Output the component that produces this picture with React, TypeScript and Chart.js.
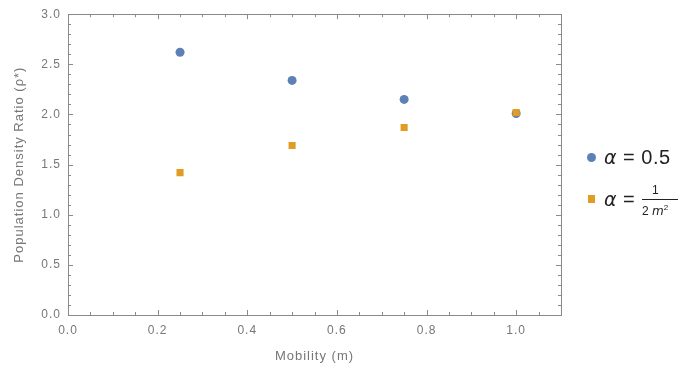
import React, { useEffect, useRef } from "react";
import { Chart, registerables } from "chart.js";

Chart.register(...registerables);

const mobility = [0.25, 0.5, 0.75, 1.0];
const alphaHalf = [2.62, 2.34, 2.15, 2.01];
const alphaInv = [1.42, 1.69, 1.87, 2.02];
const xTickValues = [0, 0.2, 0.4, 0.6, 0.8, 1.0];
const yTickValues = [0, 0.5, 1.0, 1.5, 2.0, 2.5, 3.0];
const xMinorStep = 0.05;
const yMinorStep = 0.1;

const BLUE = "#5E81B5";
const ORANGE = "#E19C24";
const FRAME = "#8a8a8a";
const TEXT = "#777777";
const FONT = "'Liberation Sans', Arial, sans-serif";

const spacingPlugin = {
  id: "letterSpacing",
  beforeInit(chart: any) {
    chart.ctx.letterSpacing = "1px";
  },
  beforeUpdate(chart: any) {
    chart.ctx.letterSpacing = "1px";
  },
  beforeDraw(chart: any) {
    chart.ctx.letterSpacing = "1px";
  },
};

const framePlugin = {
  id: "frameTicks",
  beforeDatasetsDraw(chart: any) {
    const { ctx, chartArea } = chart;
    const { left, right, top, bottom } = chartArea;
    const xs = chart.scales.x;
    const ys = chart.scales.y;
    ctx.save();
    ctx.strokeStyle = FRAME;
    ctx.lineWidth = 1;
    ctx.strokeRect(Math.round(left) + 0.5, Math.round(top) + 0.5, Math.round(right - left), Math.round(bottom - top));
    ctx.beginPath();
    const isMajor = (v: number, list: number[]) => list.some((t) => Math.abs(t - v) < 1e-6);
    for (let v = 0; v <= xs.max + 1e-9; v += xMinorStep) {
      const val = Math.round(v * 1000) / 1000;
      const px = Math.round(xs.getPixelForValue(val)) + 0.5;
      const len = isMajor(val, xTickValues) ? 5 : 3;
      if (px <= left + 1 || px >= right - 1) continue;
      ctx.moveTo(px, bottom);
      ctx.lineTo(px, bottom - len);
      ctx.moveTo(px, top);
      ctx.lineTo(px, top + len);
    }
    for (let v = 0; v <= ys.max + 1e-9; v += yMinorStep) {
      const val = Math.round(v * 1000) / 1000;
      const py = Math.round(ys.getPixelForValue(val)) + 0.5;
      const len = isMajor(val, yTickValues) ? 5 : 3;
      if (py <= top + 1 || py >= bottom - 1) continue;
      ctx.moveTo(left, py);
      ctx.lineTo(left + len, py);
      ctx.moveTo(right, py);
      ctx.lineTo(right - len, py);
    }
    ctx.stroke();
    ctx.restore();
  },
};

export default function App() {
  const canvasRef = useRef<HTMLCanvasElement | null>(null);

  useEffect(() => {
    if (!canvasRef.current) return;
    const chart = new Chart(canvasRef.current, {
      type: "scatter",
      data: {
        datasets: [
          {
            label: "α = 0.5",
            data: mobility.map((m, i) => ({ x: m, y: alphaHalf[i] })),
            backgroundColor: BLUE,
            borderColor: BLUE,
            pointStyle: "circle",
            pointRadius: 4.5,
            borderWidth: 0,
            order: 2,
          },
          {
            label: "α = 1/(2m²)",
            data: mobility.map((m, i) => ({ x: m, y: alphaInv[i] })),
            backgroundColor: ORANGE,
            borderColor: ORANGE,
            pointStyle: "rect",
            pointRadius: 5,
            borderWidth: 0,
            order: 1,
          },
        ],
      },
      options: {
        animation: false,
        responsive: false,
        maintainAspectRatio: false,
        layout: { padding: { top: 11, right: 117, left: 0, bottom: 0 } },
        plugins: { legend: { display: false }, tooltip: { enabled: false } },
        scales: {
          x: {
            type: "linear",
            min: 0,
            max: 1.1,
            grid: { display: false, drawTicks: false },
            border: { display: false },
            afterBuildTicks: (s: any) => {
              s.ticks = xTickValues.map((v) => ({ value: v }));
            },
            afterFit: (s: any) => {
              s.height = 57;
            },
            ticks: {
              padding: 8,
              color: TEXT,
              font: { family: FONT, size: 12 },
              maxRotation: 0,
              callback: (v: any) => Number(v).toFixed(1),
            },
            title: {
              display: true,
              text: "Mobility (m)",
              color: TEXT,
              font: { family: FONT, size: 13 },
              padding: { top: 9, bottom: 8 },
            },
          },
          y: {
            type: "linear",
            min: 0,
            max: 3,
            grid: { display: false, drawTicks: false },
            border: { display: false },
            afterBuildTicks: (s: any) => {
              s.ticks = yTickValues.map((v) => ({ value: v }));
            },
            afterFit: (s: any) => {
              s.width = 68;
            },
            ticks: {
              padding: 7,
              color: TEXT,
              font: { family: FONT, size: 12 },
              callback: (v: any) => Number(v).toFixed(1),
            },
            title: {
              display: true,
              text: "Population Density Ratio (ρ*)",
              color: TEXT,
              font: { family: FONT, size: 13 },
              padding: { top: 12, bottom: 0 },
            },
          },
        },
      },
      plugins: [spacingPlugin, framePlugin],
    });
    return () => chart.destroy();
  }, []);

  const legendText: React.CSSProperties = {
    position: "absolute",
    fontFamily: FONT,
    fontSize: 20,
    color: "#222",
    whiteSpace: "nowrap",
    lineHeight: "20px",
    letterSpacing: "0.5px",
  };
  const alphaStyle: React.CSSProperties = {
    fontFamily: "'DejaVu Sans', sans-serif",
    fontStyle: "italic",
    fontSize: 19,
  };

  return (
    <div style={{ position: "fixed", left: 0, top: 0, width: 678, height: 372, background: "#fff", overflow: "hidden" }}>
      <canvas ref={canvasRef} width={678} height={372} style={{ position: "absolute", left: 0, top: 0, width: 678, height: 372 }} />
      <div style={{ position: "absolute", left: 587, top: 153, width: 9, height: 9, borderRadius: "50%", background: BLUE }} />
      <div style={{ ...legendText, left: 604, top: 147 }}>
        <span style={alphaStyle}>α</span> = 0.5
      </div>
      <div style={{ position: "absolute", left: 588, top: 195, width: 7, height: 8, background: ORANGE }} />
      <div style={{ ...legendText, left: 604, top: 189 }}>
        <span style={alphaStyle}>α</span> =
      </div>
      <div style={{ position: "absolute", left: 642, top: 184, width: 40, fontFamily: FONT, fontSize: 12, color: "#222", lineHeight: "13px" }}>
        <div style={{ paddingLeft: 10 }}>1</div>
        <div style={{ borderTop: "1px solid #222", marginTop: 2, paddingTop: 1, paddingLeft: 0 }}>
          2 <span style={{ fontFamily: "'DejaVu Sans', sans-serif", fontStyle: "italic", fontSize: 12 }}>m</span>
          <sup style={{ fontSize: 8 }}>2</sup>
        </div>
      </div>
    </div>
  );
}
